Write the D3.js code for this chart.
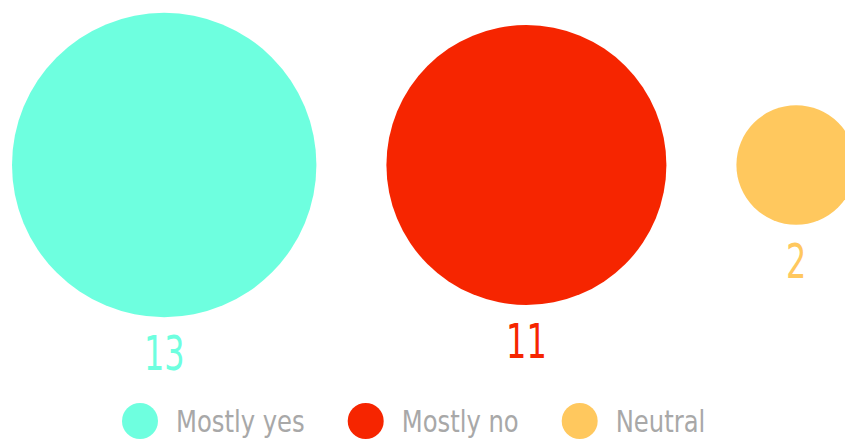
<!DOCTYPE html>
<html>
<head>
<meta charset="utf-8">
<script src="https://cdn.jsdelivr.net/npm/d3@7"></script>
<style>
  html, body { margin: 0; padding: 0; background: #fff; }
  svg { display: block; }
  text { font-family: "Liberation Sans Narrow", "DejaVu Sans Condensed", "Roboto", sans-serif; }
</style>
</head>
<body>
<svg id="chart" width="845" height="441"></svg>
<script>
// Survey answers, one bubble per answer, area proportional to count
const categories = ["Mostly yes", "Mostly no", "Neutral"];
const counts = [13, 11, 2];
const colors = ["#6effdf", "#f62500", "#ffc85e"];

const width = 845, height = 441;
const svg = d3.select("#chart");

const r = d3.scaleSqrt().domain([0, 13]).range([0, 152.2]);
const gap = 70;
const centerY = 165;
const valueSqueeze = 0.74;   // narrow lettering for the count labels
const legendSqueeze = 0.9;

// lay bubbles out left to right with a fixed gap between edges
let x = 12;
const bubbles = categories.map((c, i) => {
  const rad = r(counts[i]);
  const cx = x + rad;
  x = cx + rad + gap;
  return { name: c, value: counts[i], color: colors[i], cx, r: rad };
});

const g = svg.append("g");
g.selectAll("circle.bubble")
  .data(bubbles)
  .join("circle")
  .attr("class", "bubble")
  .attr("cx", d => d.cx)
  .attr("cy", centerY)
  .attr("r", d => d.r)
  .attr("fill", d => d.color);

g.selectAll("text.value")
  .data(bubbles)
  .join("text")
  .attr("class", "value")
  .attr("transform", d => `translate(${d.cx},${centerY + d.r + 53}) scale(${valueSqueeze},1)`)
  .attr("text-anchor", "middle")
  .attr("font-size", 48)
  .attr("fill", d => d.color)
  .text(d => d.value);

// legend
const legend = svg.append("g").attr("transform", "translate(122,421)");
let lx = 0;
categories.forEach((c, i) => {
  const item = legend.append("g").attr("transform", `translate(${lx},0)`);
  item.append("circle").attr("cx", 18).attr("cy", 0).attr("r", 18).attr("fill", colors[i]);
  const t = item.append("text")
    .attr("transform", `translate(54,11) scale(${legendSqueeze},1)`)
    .attr("font-size", 30)
    .attr("fill", "#a8a8a8")
    .text(c);
  lx += 54 + t.node().getComputedTextLength() * legendSqueeze + 43;
});
</script>
</body>
</html>
